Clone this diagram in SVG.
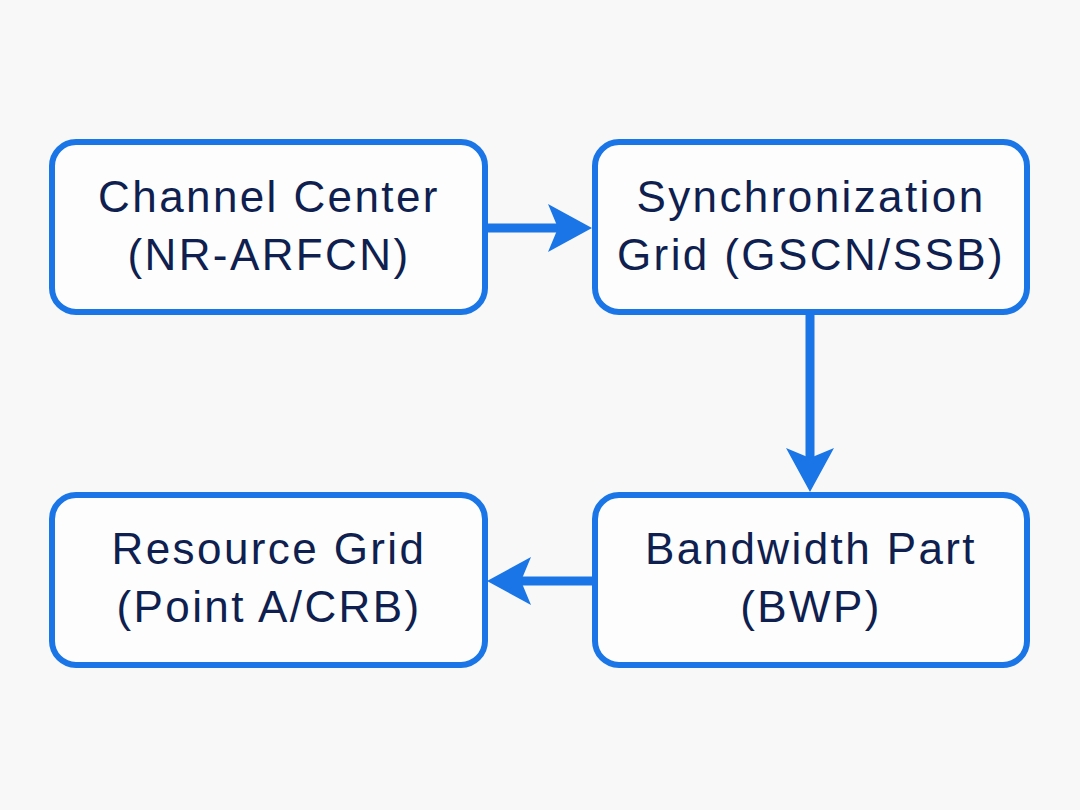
<svg xmlns="http://www.w3.org/2000/svg" width="1080" height="810" viewBox="0 0 1080 810">
  <style>
    .box { fill: #fdfdfd; stroke: #1a76e6; stroke-width: 6; }
    .lbl { font-family: "Liberation Sans", Arial, sans-serif; font-size: 44px; letter-spacing: 2.4px; fill: #0f1f4f; text-anchor: middle; }
    .conn { stroke: #1a76e6; stroke-width: 9; fill: none; }
  </style>
  <defs>
    <marker id="ah" viewBox="0 0 44 48" refX="12" refY="24" markerWidth="44" markerHeight="48" markerUnits="userSpaceOnUse" orient="auto">
      <path d="M0,0 L44,24 L0,48 L10,24 Z" fill="#1a76e6"/>
    </marker>
  </defs>
  <rect width="1080" height="810" fill="#f7f8f7"/>

  <g id="connectors">
    <line class="conn" x1="488" y1="228" x2="560" y2="228" marker-end="url(#ah)"/>
    <line class="conn" x1="810" y1="315" x2="810" y2="460" marker-end="url(#ah)"/>
    <line class="conn" x1="592" y1="581" x2="519" y2="581" marker-end="url(#ah)"/>
  </g>

  <g id="channel-center">
    <rect class="box" x="52" y="142" width="433" height="170" rx="24"/>
    <text class="lbl" x="269" y="212">Channel Center</text>
    <text class="lbl" x="269" y="270">(NR-ARFCN)</text>
  </g>
  <g id="sync-grid">
    <rect class="box" x="595" y="142" width="432" height="170" rx="24"/>
    <text class="lbl" x="811" y="212">Synchronization</text>
    <text class="lbl" x="811" y="270">Grid (GSCN/SSB)</text>
  </g>
  <g id="bwp">
    <rect class="box" x="595" y="495" width="432" height="170" rx="24"/>
    <text class="lbl" x="811" y="564">Bandwidth Part</text>
    <text class="lbl" x="811" y="622">(BWP)</text>
  </g>
  <g id="resource-grid">
    <rect class="box" x="52" y="495" width="433" height="170" rx="24"/>
    <text class="lbl" x="269" y="564">Resource Grid</text>
    <text class="lbl" x="269" y="622">(Point A/CRB)</text>
  </g>
</svg>
